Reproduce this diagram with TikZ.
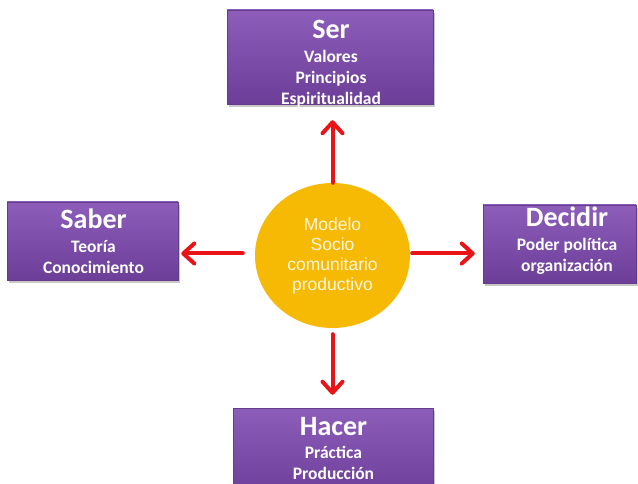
\documentclass[tikz,border=0pt]{standalone}
\usepackage{fontspec}
\setmainfont{Carlito}
\newfontfamily\arialfont{Liberation Sans}
\usetikzlibrary{arrows.meta,shadows,shapes.geometric}
\definecolor{boxtop}{RGB}{140,94,186}
\definecolor{boxbot}{RGB}{108,62,152}
\definecolor{boxline}{RGB}{100,60,140}
\definecolor{circfill}{RGB}{246,186,4}
\definecolor{circtext}{RGB}{255,246,222}
\definecolor{arrred}{RGB}{234,20,24}
\tikzset{
  purplebox/.style={draw=boxline, line width=0.5pt, top color=boxtop, bottom color=boxbot, inner sep=0pt,
    drop shadow={shadow xshift=1.5pt, shadow yshift=-3pt, fill=black, opacity=0.22}},
  boxtext/.style={text=white, align=center, inner sep=0pt, anchor=base, font=\bfseries\fontsize{17.5}{21}\selectfont},
  arr/.style={draw=arrred, line width=4pt, line cap=round,
    -{Straight Barb[length=11pt,width=20pt,round]}},
  midcircle/.style={ellipse, fill=circfill, minimum width=155pt, minimum height=145pt, inner sep=0pt,
    text=circtext, align=center, font=\arialfont\fontsize{17.5}{20}\selectfont}
}
\newcommand{\boxtitle}[1]{{\fontsize{28}{28}\selectfont #1}}
\begin{document}
\begin{tikzpicture}[x=1pt,y=-1pt]
\useasboundingbox (0,0) rectangle (638,484);
\clip (0,0) rectangle (638,484);
\fill[white] (0,0) rectangle (638,484);
% boxes
\node[purplebox, minimum width=206pt, minimum height=94pt] (ser) at (330,57) {};
\node[purplebox, minimum width=171pt, minimum height=78pt] (saber) at (92.5,241) {};
\node[purplebox, minimum width=153pt, minimum height=78pt] (decidir) at (559.5,244) {};
\node[purplebox, minimum width=200pt, minimum height=90pt] (hacer) at (333,453) {};
% texts (anchor = baseline of the last line)
\node[boxtext] (sert) at (331,105) {\boxtitle{Ser}\\[3pt]Valores\\Principios\\Espiritualidad};
\node[boxtext] (sabert) at (93.5,273) {\boxtitle{Saber}\\[3pt]Teoría\\Conocimiento};
\node[boxtext] (decidirt) at (567,272) {\boxtitle{Decidir}\\[3pt]Poder política\\organización};
\node[boxtext] (hacert) at (333.5,479.5) {\boxtitle{Hacer}\\[2pt]Práctica\\Producción};
% centre
\node[midcircle] (circ) at (332.5,255.5) {Modelo\\Socio\\comunitario\\productivo};
% arrows
\draw[arr, shorten >=16pt] (circ.north) -- (circ.north |- ser.south);
\draw[arr, shorten <=12pt, shorten >=3pt] ([yshift=2pt]circ.west) -- ([yshift=2pt]circ.west -| saber.east);
\draw[arr, shorten <=2pt, shorten >=8pt] ([yshift=2pt]circ.east) -- ([yshift=2pt]circ.east -| decidir.west);
\draw[arr, shorten <=6pt, shorten >=13pt] (circ.south) -- (circ.south |- hacer.north);
\end{tikzpicture}
\end{document}
